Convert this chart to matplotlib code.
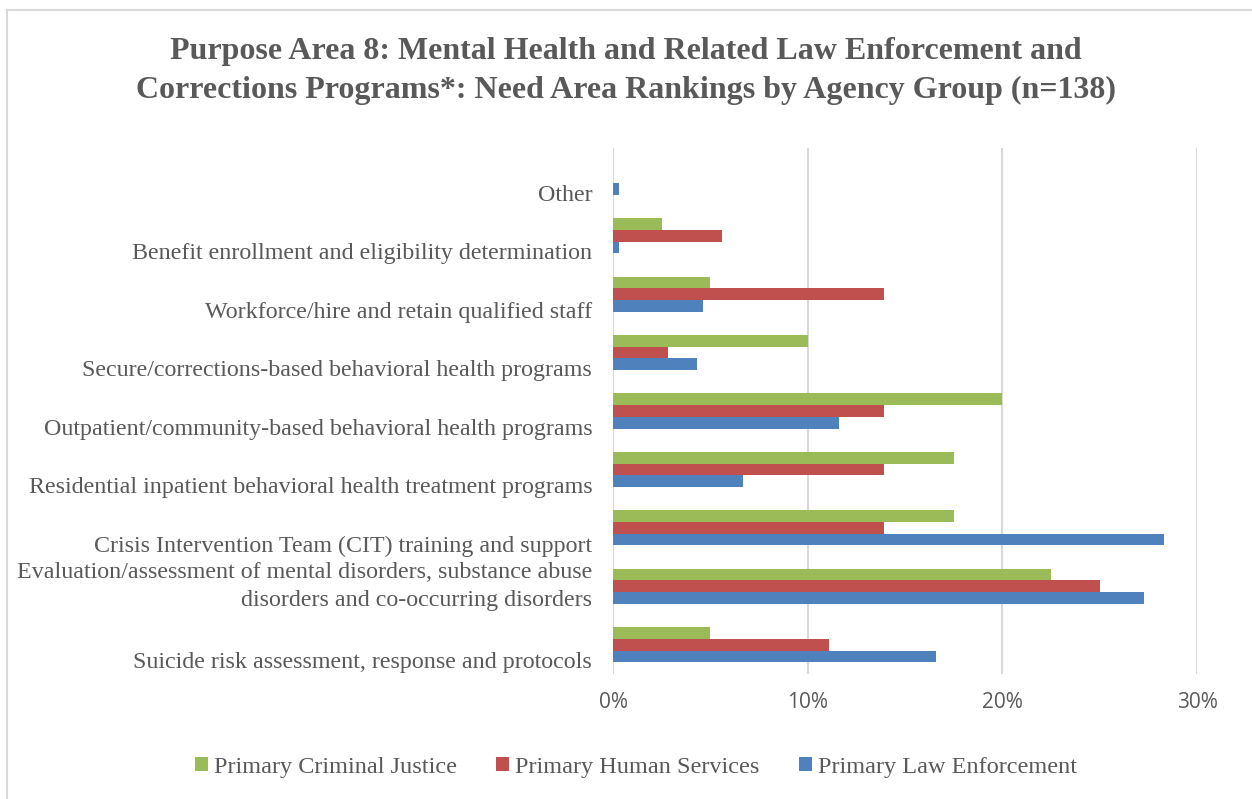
import matplotlib.pyplot as plt
from matplotlib.lines import Line2D
import numpy as np

# categories listed bottom to top
categories = [
    "Suicide risk assessment, response and protocols",
    "Evaluation/assessment of mental disorders, substance abuse\ndisorders and co-occurring disorders",
    "Crisis Intervention Team (CIT) training and support",
    "Residential inpatient behavioral health treatment programs",
    "Outpatient/community-based behavioral health programs",
    "Secure/corrections-based behavioral health programs",
    "Workforce/hire and retain qualified staff",
    "Benefit enrollment and eligibility determination",
    "Other",
]
criminal_justice = [5.0, 22.5, 17.5, 17.5, 20.0, 10.0, 5.0, 2.5, 0.0]
human_services = [11.1, 25.0, 13.9, 13.9, 13.9, 2.8, 13.9, 5.6, 0.0]
law_enforcement = [16.6, 27.3, 28.3, 6.7, 11.6, 4.3, 4.6, 0.3, 0.3]
series_names = ["Primary Criminal Justice", "Primary Human Services", "Primary Law Enforcement"]
xticks = [0, 10, 20, 30]

green = "#9bbb59"
red = "#c0504d"
blue = "#4f81bd"
grey_text = "#595959"
W, H = 1252, 799

fig = plt.figure(figsize=(W / 100, H / 100), dpi=100)
# chart frame (cropped: only top and left edges visible)
fig.add_artist(Line2D([6.5 / W, 1], [1 - 10 / H, 1 - 10 / H], transform=fig.transFigure,
                      color="#d9d9d9", linewidth=1.5))
fig.add_artist(Line2D([6.5 / W, 6.5 / W], [0, 1 - 10 / H], transform=fig.transFigure,
                      color="#d9d9d9", linewidth=1.5))

ax = fig.add_axes([613 / W, 1 - 674 / H, (1197 - 613) / W, (674 - 148) / H])

y = np.arange(len(categories))
h = 0.2
ax.barh(y + h, criminal_justice, height=h, color=green, label=series_names[0], zorder=3)
ax.barh(y, human_services, height=h, color=red, label=series_names[1], zorder=3)
ax.barh(y - h, law_enforcement, height=h, color=blue, label=series_names[2], zorder=3)

ax.set_xlim(0, 30)
ax.set_ylim(-0.5, len(categories) - 0.5)
ax.set_xticks(xticks)
ax.set_xticklabels([f"{t}%" for t in xticks], fontfamily="Open Sans", fontsize=15, color=grey_text)
ax.set_yticks([])
ax.tick_params(axis="both", length=0)
ax.tick_params(axis="x", pad=13)
for s in ax.spines.values():
    s.set_visible(False)
ax.grid(axis="x", color="#d9d9d9", linewidth=1.5, zorder=0)

# category labels: single-line ones sit a bit below the group centre
for yi, lab in zip(y, categories):
    dy = 0 if "\n" in lab else -13
    ax.annotate(lab, xy=(0, yi), xycoords=("axes fraction", "data"),
                xytext=(-15, dy), textcoords="offset points", ha="right", va="center",
                fontfamily="Liberation Serif", fontsize=17.3, color=grey_text,
                linespacing=1.4)

fig.text(0.5, 1 - 71 / H, "Purpose Area 8: Mental Health and Related Law Enforcement and\n"
         "Corrections Programs*: Need Area Rankings by Agency Group (n=138)",
         ha="center", va="center", fontfamily="Liberation Serif", fontweight="bold",
         fontsize=23, color=grey_text, linespacing=1.45)

fig.legend(loc="center", bbox_to_anchor=(0.508, 1 - 767 / H), ncol=3, frameon=False,
           prop={"family": "Liberation Serif", "size": 17.5}, labelcolor=grey_text,
           handlelength=0.55, handleheight=0.55, handletextpad=0.25, columnspacing=1.6)

fig.savefig("out.png", dpi=100)
